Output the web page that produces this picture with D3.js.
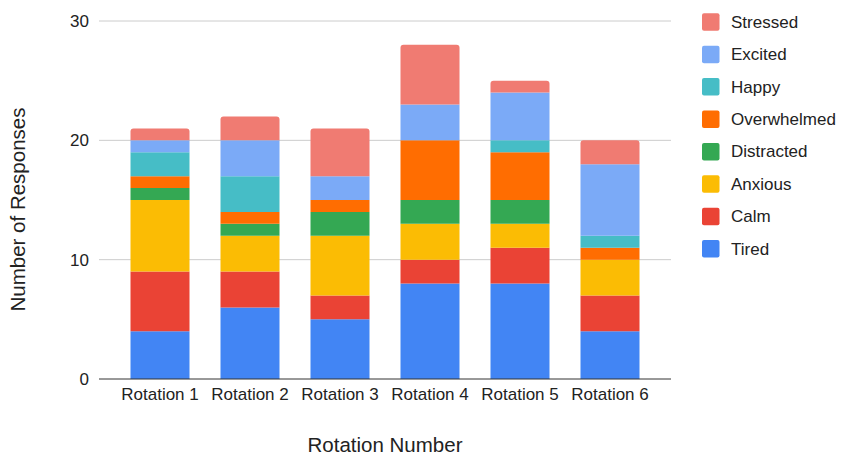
<!DOCTYPE html>
<html>
<head>
<meta charset="utf-8">
<script src="https://cdn.jsdelivr.net/npm/d3@7"></script>
<style>
  html, body { margin: 0; padding: 0; background: #fff; }
  svg { display: block; font-family: "Liberation Sans", Arial, sans-serif; }
</style>
</head>
<body>
<svg id="chart" width="841" height="455"></svg>
<script>
// Categories along the x axis
const rotations = ["Rotation 1", "Rotation 2", "Rotation 3", "Rotation 4", "Rotation 5", "Rotation 6"];

// Stack order, bottom to top
const moods = ["Tired", "Calm", "Anxious", "Distracted", "Overwhelmed", "Happy", "Excited", "Stressed"];

// Responses per mood for each rotation
const tired       = [4, 6, 5, 8, 8, 4];
const calm        = [5, 3, 2, 2, 3, 3];
const anxious     = [6, 3, 5, 3, 2, 3];
const distracted  = [1, 1, 2, 2, 2, 0];
const overwhelmed = [1, 1, 1, 5, 4, 1];
const happy       = [2, 3, 0, 0, 1, 1];
const excited     = [1, 3, 2, 3, 4, 6];
const stressed    = [1, 2, 4, 5, 1, 2];

const yTicks = [0, 10, 20, 30];

const colors = {
  Tired: "#4285F4", Calm: "#EA4335", Anxious: "#FBBC04", Distracted: "#34A853",
  Overwhelmed: "#FF6D01", Happy: "#46BDC6", Excited: "#7BAAF7", Stressed: "#F07B72"
};

const seriesValues = { Tired: tired, Calm: calm, Anxious: anxious, Distracted: distracted,
  Overwhelmed: overwhelmed, Happy: happy, Excited: excited, Stressed: stressed };

const rows = rotations.map((r, i) => {
  const row = { rotation: r };
  moods.forEach(m => row[m] = seriesValues[m][i]);
  return row;
});

const svg = d3.select("#chart");
const plotLeft = 99, plotRight = 671, plotTop = 21, plotBottom = 379;

const x = d3.scaleBand().domain(rotations).range([plotLeft, plotRight]).paddingInner(0.3444).paddingOuter(0.35);
const y = d3.scaleLinear().domain([0, 30]).range([plotBottom, plotTop]);

// Gridlines
svg.append("g")
  .selectAll("line")
  .data(yTicks.filter(t => t !== 0))
  .join("line")
  .attr("x1", plotLeft).attr("x2", plotRight)
  .attr("y1", d => y(d)).attr("y2", d => y(d))
  .attr("stroke", "#cccccc").attr("stroke-width", 1);

// Y axis tick labels
const yAxis = svg.append("g")
  .attr("transform", `translate(${plotLeft},0)`)
  .call(d3.axisLeft(y).tickValues(yTicks).tickSize(0).tickPadding(10));
yAxis.select(".domain").remove();
yAxis.selectAll("text").attr("font-size", 17).attr("fill", "#222").attr("font-family", "Liberation Sans, Arial, sans-serif");

// Stacked bars
const stack = d3.stack().keys(moods);
const layers = stack(rows);

// Topmost non-empty segment per rotation gets rounded corners
const topKey = rows.map(row => {
  let k = null;
  moods.forEach(m => { if (row[m] > 0) k = m; });
  return k;
});

function roundedTopRect(x0, y0, w, h, r) {
  r = Math.min(r, h, w / 2);
  return `M${x0},${y0 + h} V${y0 + r} Q${x0},${y0} ${x0 + r},${y0} H${x0 + w - r} Q${x0 + w},${y0} ${x0 + w},${y0 + r} V${y0 + h} Z`;
}

svg.append("g")
  .selectAll("g")
  .data(layers)
  .join("g")
  .attr("fill", d => colors[d.key])
  .each(function(layer) {
    d3.select(this).selectAll("path")
      .data(layer.map((seg, i) => ({ seg, i, key: layer.key })).filter(d => d.seg[1] > d.seg[0]))
      .join("path")
      .attr("d", d => {
        const x0 = x(rotations[d.i]);
        const y0 = y(d.seg[1]);
        const h = y(d.seg[0]) - y(d.seg[1]);
        const r = topKey[d.i] === d.key ? 3 : 0;
        return roundedTopRect(x0, y0, x.bandwidth(), h, r);
      });
  });

// Baseline
svg.append("line")
  .attr("x1", plotLeft).attr("x2", plotRight)
  .attr("y1", y(0)).attr("y2", y(0))
  .attr("stroke", "#333").attr("stroke-width", 1);

// X axis labels
const xAxis = svg.append("g")
  .attr("transform", `translate(0,${plotBottom})`)
  .call(d3.axisBottom(x).tickSize(0).tickPadding(9));
xAxis.select(".domain").remove();
xAxis.selectAll("text").attr("font-size", 17).attr("fill", "#222").attr("font-family", "Liberation Sans, Arial, sans-serif");

// Axis titles
svg.append("text")
  .attr("x", 385).attr("y", 452)
  .attr("text-anchor", "middle")
  .attr("font-size", 20.5).attr("fill", "#222")
  .text("Rotation Number");

svg.append("text")
  .attr("transform", "translate(25,209.5) rotate(-90)")
  .attr("text-anchor", "middle")
  .attr("font-size", 20.5).attr("fill", "#222")
  .text("Number of Responses");

// Legend, top to bottom in reverse stack order
const legendItems = moods.slice().reverse();
const legend = svg.append("g");
const li = legend.selectAll("g")
  .data(legendItems)
  .join("g")
  .attr("transform", (d, i) => `translate(702,${13.3 + i * 32.4})`);
li.append("rect")
  .attr("width", 17.5).attr("height", 17.5).attr("rx", 2)
  .attr("fill", d => colors[d]);
li.append("text")
  .attr("x", 29).attr("y", 14.5)
  .attr("font-size", 17).attr("fill", "#222")
  .text(d => d);
</script>
</body>
</html>
